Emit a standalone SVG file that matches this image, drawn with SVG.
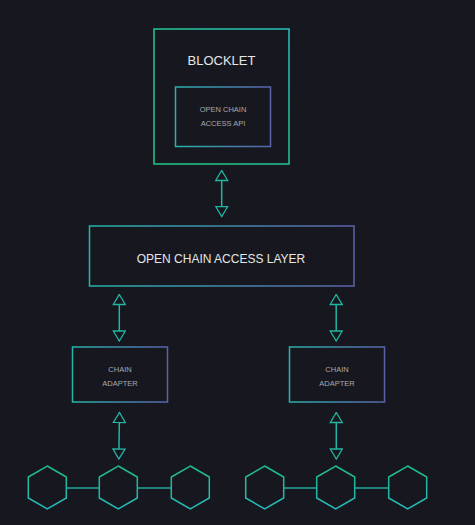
<svg xmlns="http://www.w3.org/2000/svg" width="475" height="525" viewBox="0 0 475 525">
<defs>
<linearGradient id="gOuter" x1="0" y1="1" x2="1" y2="0">
<stop offset="0" stop-color="#1ec98a"/>
<stop offset="0.55" stop-color="#20c796"/>
<stop offset="1" stop-color="#27c3bd"/>
</linearGradient>
<linearGradient id="gBox" x1="0" y1="0" x2="1" y2="0">
<stop offset="0" stop-color="#27b3ab"/>
<stop offset="1" stop-color="#5b62ad"/>
</linearGradient>
<linearGradient id="gHex" x1="0" y1="0" x2="0" y2="1">
<stop offset="0" stop-color="#1fb98c"/>
<stop offset="1" stop-color="#26b9bb"/>
</linearGradient>
<marker id="tri" viewBox="0 0 12 14" refX="11" refY="7" markerWidth="12" markerHeight="14" markerUnits="userSpaceOnUse" orient="auto-start-reverse">
<path d="M1,1 L11,7 L1,13 Z" fill="#17181f" stroke="#22b5a4" stroke-width="1.3"/>
</marker>
<style>
text{font-family:"Liberation Sans","DejaVu Sans",sans-serif;text-anchor:middle}
.big{fill:#e6e6e6;font-size:13px}
.small{fill:#a8a8ad;font-size:7.5px}
.box{fill:none;stroke:url(#gBox);stroke-width:1.5}
.hex{fill:none;stroke:url(#gHex);stroke-width:1.5}
.arr{stroke:#22b5a4;stroke-width:1.5;fill:none}
.link{stroke:#24a99f;stroke-width:1.5}
</style>
</defs>
<rect width="475" height="525" fill="#17181f"/>
<g id="blocklet">
<rect x="154" y="29" width="135" height="135" fill="none" stroke="url(#gOuter)" stroke-width="1.5"/>
<text class="big" x="221.5" y="65">BLOCKLET</text>
</g>
<g id="api">
<rect class="box" x="175.5" y="87" width="95" height="59.5"/>
<text class="small" x="223" y="112">OPEN CHAIN</text>
<text class="small" x="223" y="126">ACCESS API</text>
</g>
<g id="layer">
<rect class="box" x="89.5" y="226" width="264.5" height="60"/>
<text class="big" x="221" y="263" style="font-size:12px">OPEN CHAIN ACCESS LAYER</text>
</g>
<g id="adapter1">
<rect class="box" x="72.5" y="347" width="95" height="55"/>
<text class="small" x="120" y="372">CHAIN</text>
<text class="small" x="120" y="386">ADAPTER</text>
</g>
<g id="adapter2">
<rect class="box" x="289.5" y="347" width="95" height="55"/>
<text class="small" x="337" y="372">CHAIN</text>
<text class="small" x="337" y="386">ADAPTER</text>
</g>
<g id="chain1">
<polygon class="hex" points="47.3,466 66.3,477 66.3,498 47.3,509 28.3,498 28.3,477"/>
<polygon class="hex" points="118.3,466 137.3,477 137.3,498 118.3,509 99.3,498 99.3,477"/>
<polygon class="hex" points="190.3,466 209.3,477 209.3,498 190.3,509 171.3,498 171.3,477"/>
</g>
<g id="chain2">
<polygon class="hex" points="264.7,466 283.7,477 283.7,498 264.7,509 245.7,498 245.7,477"/>
<polygon class="hex" points="335.7,466 354.7,477 354.7,498 335.7,509 316.7,498 316.7,477"/>
<polygon class="hex" points="407.7,466 426.7,477 426.7,498 407.7,509 388.7,498 388.7,477"/>
</g>
<g id="connectors">
<line class="arr" x1="221.7" y1="170.5" x2="221.7" y2="216.5" marker-start="url(#tri)" marker-end="url(#tri)"/>
<line class="arr" x1="119.3" y1="294.5" x2="119.3" y2="341" marker-start="url(#tri)" marker-end="url(#tri)"/>
<line class="arr" x1="336.2" y1="294.5" x2="336.2" y2="341" marker-start="url(#tri)" marker-end="url(#tri)"/>
<line class="arr" x1="119.5" y1="412.5" x2="118.8" y2="459" marker-start="url(#tri)" marker-end="url(#tri)"/>
<line class="arr" x1="336.3" y1="412.5" x2="336.3" y2="459" marker-start="url(#tri)" marker-end="url(#tri)"/>
<line class="link" x1="66.3" y1="488" x2="99.3" y2="488"/>
<line class="link" x1="137.3" y1="488" x2="171.3" y2="488"/>
<line class="link" x1="283.7" y1="488" x2="316.7" y2="488"/>
<line class="link" x1="354.7" y1="488" x2="388.7" y2="488"/>
</g>
</svg>
